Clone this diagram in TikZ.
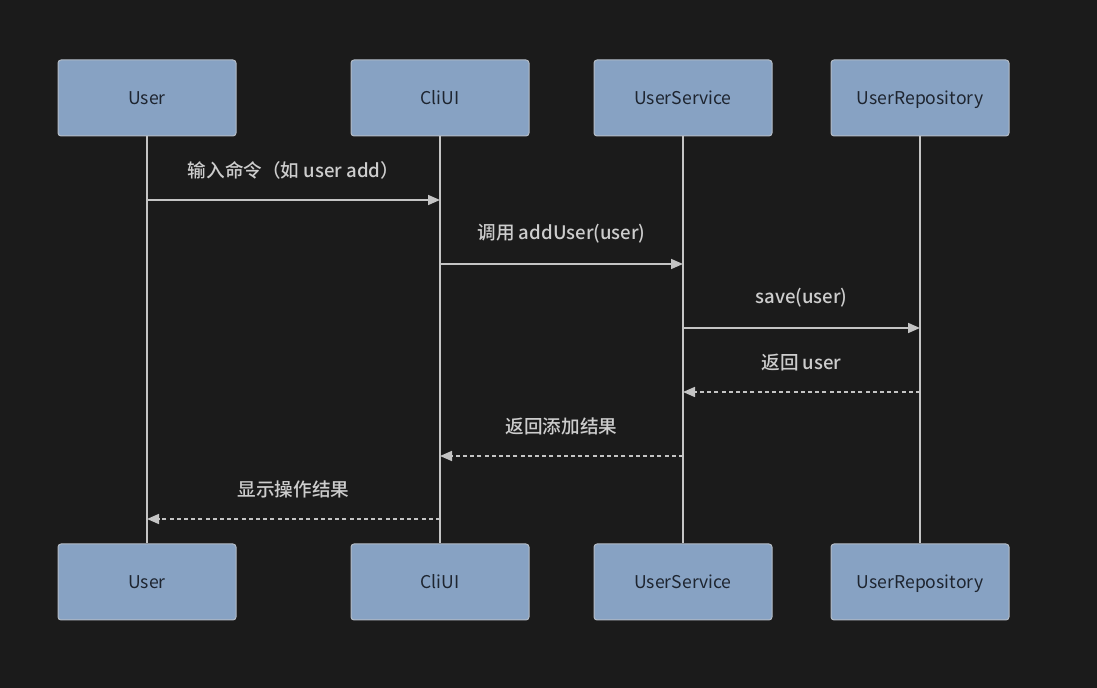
\documentclass[tikz,border=0pt]{standalone}
\usepackage{fontspec}
\setmainfont{Noto Sans CJK SC}[BoldFont={Noto Sans CJK SC Medium}]
\usepackage{xcolor}
\usetikzlibrary{arrows.meta}

\definecolor{bg}{HTML}{1B1B1B}
\definecolor{boxfill}{HTML}{87A2C3}
\definecolor{boxline}{HTML}{B4BCC6}
\definecolor{boxtext}{HTML}{1E2530}
\definecolor{wire}{HTML}{C4C4C4}
\definecolor{msgtext}{HTML}{CDCDCD}

\begin{document}
\begin{tikzpicture}[
    x=0.5pt, y=-0.5pt,
    font=\fontsize{8.8}{10}\selectfont,
    actor/.style={draw=boxline, line width=0.5pt, fill=boxfill, rounded corners=1.5pt, text=boxtext,
        minimum width=89pt, minimum height=38pt, inner sep=0pt, text height=8.6pt, text depth=1.6pt},
    life/.style={draw=wire, line width=0.8pt},
    msg/.style={wire, line width=0.8pt, -{Triangle[length=6pt,width=5pt]}},
    reply/.style={msg, dash pattern=on 2pt off 1.6pt},
    lbl/.style={text=msgtext, font=\fontsize{9.3}{11}\selectfont\bfseries, inner sep=0pt}
]
\useasboundingbox[fill=bg] (0,0) rectangle (1097,688);

% Participants (top)
\node[actor] (user)  at (147,98) {User};
\node[actor] (cli)   at (440,98) {CliUI};
\node[actor] (svc)   at (683,98) {UserService};
\node[actor] (repo)  at (920,98) {UserRepository};

% Participants (bottom)
\node[actor] (userB) at (147,582) {User};
\node[actor] (cliB)  at (440,582) {CliUI};
\node[actor] (svcB)  at (683,582) {UserService};
\node[actor] (repoB) at (920,582) {UserRepository};

% Lifelines
\draw[life] (user.south) -- (userB.north);
\draw[life] (cli.south) -- (cliB.north);
\draw[life] (svc.south) -- (svcB.north);
\draw[life] (repo.south) -- (repoB.north);

% Message anchors on the lifelines
\coordinate (u1) at (147,200);  \coordinate (c1) at (440,200);
\coordinate (c2) at (440,264);  \coordinate (s2) at (683,264);
\coordinate (s3) at (683,328);  \coordinate (r3) at (920,328);
\coordinate (r4) at (920,392);  \coordinate (s4) at (683,392);
\coordinate (s5) at (683,456);  \coordinate (c5) at (440,456);
\coordinate (c6) at (440,519);  \coordinate (u6) at (147,519);

% Calls
\draw[msg] (u1) -- (c1) node[lbl, midway, above=10pt] (m1) {输入命令（如 user add）};
\draw[msg] (c2) -- (s2) node[lbl, midway, above=10pt] (m2) {调用 addUser(user)};
\draw[msg] (s3) -- (r3) node[lbl, midway, above=10pt] (m3) {save(user)};

% Returns
\draw[reply] (r4) -- (s4) node[lbl, midway, above=10pt] (m4) {返回 user};
\draw[reply] (s5) -- (c5) node[lbl, midway, above=10pt] (m5) {返回添加结果};
\draw[reply] (c6) -- (u6) node[lbl, midway, above=10pt] (m6) {显示操作结果};
\end{tikzpicture}
\end{document}
